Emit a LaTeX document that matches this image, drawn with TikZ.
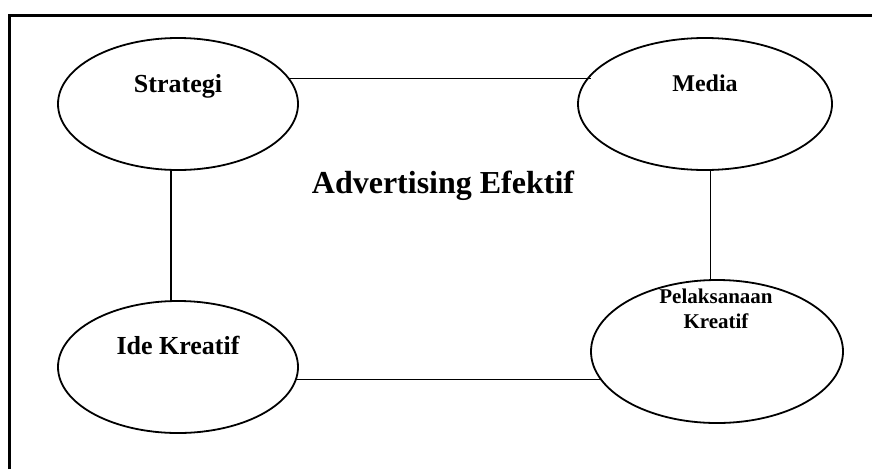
\documentclass[tikz,border=0pt]{standalone}
\usepackage{fontspec}
\setmainfont{Liberation Serif}
\usetikzlibrary{shapes.geometric}
\begin{document}
\begin{tikzpicture}[x=1pt,y=-1pt,
  oval/.style={draw,ellipse,line width=1.8pt,inner sep=0pt,outer sep=0pt},
  lbl/.style={font=\bfseries,anchor=base,inner sep=0pt},
  conn/.style={line width=1.4pt}]
\useasboundingbox (0,0) rectangle (872,469);
\draw[line width=3.8pt] (9.5,469) -- (9.5,15.5) -- (872,15.5);
\node[oval,minimum width=240pt,minimum height=132pt] (strat) at (178,104) {};
\node[oval,minimum width=254pt,minimum height=132pt] (media) at (705,104) {};
\node[oval,minimum width=240pt,minimum height=132pt] (ide) at (178,367) {};
\node[oval,minimum width=252pt,minimum height=143pt] (pel) at (717,351.5) {};
\node[lbl,font=\fontsize{26}{28}\selectfont\bfseries] (t1) at (178,92) {Strategi};
\node[lbl,font=\fontsize{24}{26}\selectfont\bfseries] (t2) at (705,91) {Media};
\node[lbl,font=\fontsize{26}{28}\selectfont\bfseries] (t3) at (178,354) {Ide Kreatif};
\node[lbl,font=\fontsize{21}{25}\selectfont\bfseries,align=center] (t4) at (716,328) {Pelaksanaan\\Kreatif};
\node[lbl,font=\fontsize{32}{34}\selectfont\bfseries] (t5) at (443,193) {Advertising Efektif};
\draw[conn] (strat.13.9) -- (media.166.9 |- strat.13.9);
\draw[conn] (strat.264.8) -- (strat.264.8 |- ide.95.2);
\draw[conn] (media.275.2) -- (media.275.2 |- pel.94.8);
\draw[conn] (ide.354.2) -- (pel.193.3 |- ide.354.2);
\end{tikzpicture}
\end{document}
